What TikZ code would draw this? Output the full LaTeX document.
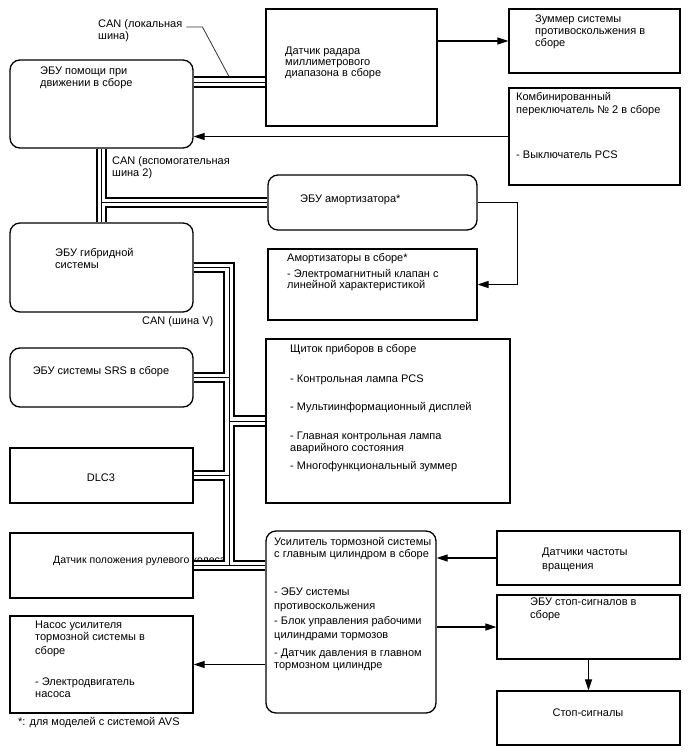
\documentclass[tikz,border=0pt]{standalone}
\usepackage{fontspec}
\setmainfont{Liberation Sans}
\usepackage{xcolor}
\usetikzlibrary{arrows.meta}

\tikzset{
  block/.style={draw, line width=1.3pt, inner sep=0pt},
  ecu/.style={block, rounded corners=10pt},
  txt/.style={inner sep=0pt, align=left, font=\fontsize{11}{12}\selectfont},
  arr/.style={line width=1.2pt, -{Triangle[length=11pt,width=7pt]}},
  leader/.style={line width=0.8pt, black!80}
}

\begin{document}
\begin{tikzpicture}[x=1pt, y=-1pt]
  \useasboundingbox (0,0) rectangle (688,755);

  \node[ecu, minimum width=183pt, minimum height=88pt] (assist) at (101.5,104) {};
  \node[block, minimum width=171pt, minimum height=117pt] (radar) at (351.5,67.5) {};
  \node[block, minimum width=171pt, minimum height=64pt] (zum) at (594.5,41) {};
  \node[block, minimum width=171pt, minimum height=97pt] (sw) at (594.5,136.5) {};
  \node[ecu, minimum width=209pt, minimum height=55pt] (amecu) at (372.5,202.5) {};
  \node[block, minimum width=209pt, minimum height=71pt] (shock) at (372.5,284.5) {};
  \node[ecu, minimum width=183pt, minimum height=89pt] (hyb) at (101.5,267.5) {};
  \node[ecu, minimum width=183pt, minimum height=59pt] (srs) at (101.5,377.5) {};
  \node[block, minimum width=183pt, minimum height=55pt] (dlc) at (101.5,475.5) {};
  \node[block, minimum width=183pt, minimum height=65pt] (steer) at (101.5,565.5) {};
  \node[block, minimum width=183pt, minimum height=97pt] (pump) at (101.5,664.5) {};
  \node[block, minimum width=244pt, minimum height=164pt] (cluster) at (388,421) {};
  \node[ecu, minimum width=170pt, minimum height=182pt] (brake) at (351,622) {};
  \node[block, minimum width=183pt, minimum height=54pt] (speed) at (588.5,558) {};
  \node[block, minimum width=183pt, minimum height=64pt] (stopecu) at (588.5,627) {};
  \node[block, minimum width=183pt, minimum height=54pt] (stop) at (588.5,718) {};

  \node[txt, anchor=north west] (assist-t) at (40,67) {ЭБУ помощи при\\движении в сборе};
  \node[txt, anchor=north west] (radar-t) at (285,47) {Датчик радара\\[-1pt]миллиметрового\\[-1pt]диапазона в сборе};
  \node[txt, anchor=north west] (zum-t) at (535,15) {Зуммер системы\\противоскольжения в\\сборе};
  \node[txt, anchor=north west] (sw-t) at (516,92) {Комбинированный\\[1pt]переключатель №~2 в сборе\\[33pt]- Выключатель PCS};
  \node[txt, anchor=north west] (amecu-t) at (300,195) {ЭБУ амортизатора*};
  \node[txt, anchor=north west] (shock-t) at (287,253) {Амортизаторы в сборе*\\[4pt]- Электромагнитный клапан с\\[-1pt]линейной характеристикой};
  \node[txt, anchor=north west] (hyb-t) at (55,248) {ЭБУ гибридной\\системы};
  \node[txt] (srs-t) at (101,372) {ЭБУ системы SRS в сборе};
  \node[txt] (dlc-t) at (101,478) {DLC3};
  \node[txt, anchor=west, font=\fontsize{10.5}{12}\selectfont] (steer-t) at (53,561) {Датчик положения рулевого колеса};
  \node[txt, anchor=north west] (pump-t) at (35,621) {Насос усилителя\\тормозной системы в\\[2pt]сборе\\[19pt]- Электродвигатель\\насоса};
  \node[txt, anchor=west] (foot) at (18,723) {*: для моделей с системой AVS};
  \node[txt, anchor=north west] (cluster-t) at (290,344) {Щиток приборов в сборе\\[18pt]- Контрольная лампа PCS\\[16pt]- Мультиинформационный дисплей\\[17pt]- Главная контрольная лампа\\аварийного состояния\\[6pt]- Многофункциональный зуммер};
  \node[txt, anchor=north west] (brake-t) at (274,537) {Усилитель тормозной системы\\с главным цилиндром в сборе\\[26pt]- ЭБУ системы\\[2pt]противоскольжения\\[3pt]- Блок управления рабочими\\[2pt]цилиндрами тормозов\\[6pt]- Датчик давления в главном\\тормозном цилиндре};
  \node[txt, anchor=north west] (speed-t) at (542,548) {Датчики частоты\\[2pt]вращения};
  \node[txt, anchor=north west] (stopecu-t) at (530,598) {ЭБУ стоп-сигналов в\\[1pt]сборе};
  \node[txt] (stop-t) at (588,713) {Стоп-сигналы};

  \node[txt, anchor=north west] (canloc) at (98,19) {CAN (локальная\\шина)};
  \node[txt, anchor=north west] (canaux) at (112,156) {CAN (вспомогательная\\шина 2)};
  \node[txt, anchor=west] (canv) at (142,322) {CAN (шина V)};

  \coordinate (locbus) at ([yshift=22pt]assist.east);
  \coordinate (trunk) at (229,0);
  \coordinate (leadtip) at (229,76.5);

  \foreach \w/\clr in {11.5pt/black, 7.5pt/white, 1pt/black} {
    \begin{scope}[line width=\w, \clr]
      \draw (locbus) -- (locbus -| radar.west);
      \draw (assist.south) -- (hyb.north);
      \draw (assist.south |- amecu.west) -- (amecu.west);
      \draw (hyb.east) -| (steer.east -| trunk);
      \draw (srs.east) -- (srs.east -| trunk);
      \draw (dlc.east) -- (dlc.east -| trunk);
      \draw (cluster.west -| trunk) -- (cluster.west);
      \draw (steer.east) -- (steer.east -| brake.west);
    \end{scope}
  }

  \draw[leader] ([xshift=4pt,yshift=-8pt]canloc.north east) -- ++(16,0) -- (leadtip);

  \draw[arr] (radar.east |- zum.west) -- (zum.west);
  \draw[arr] (sw.west) -- (sw.west -| assist.east);
  \draw[arr] (amecu.east) -- ++(40,0) |- (shock.east);
  \draw[arr] (speed.west) -- (speed.west -| brake.east);
  \draw[arr] (stopecu.west -| brake.east) -- (stopecu.west);
  \draw[arr] (pump.east -| brake.west) -- (pump.east);
  \draw[arr] (stopecu.south) -- (stop.north);
\end{tikzpicture}
\end{document}
